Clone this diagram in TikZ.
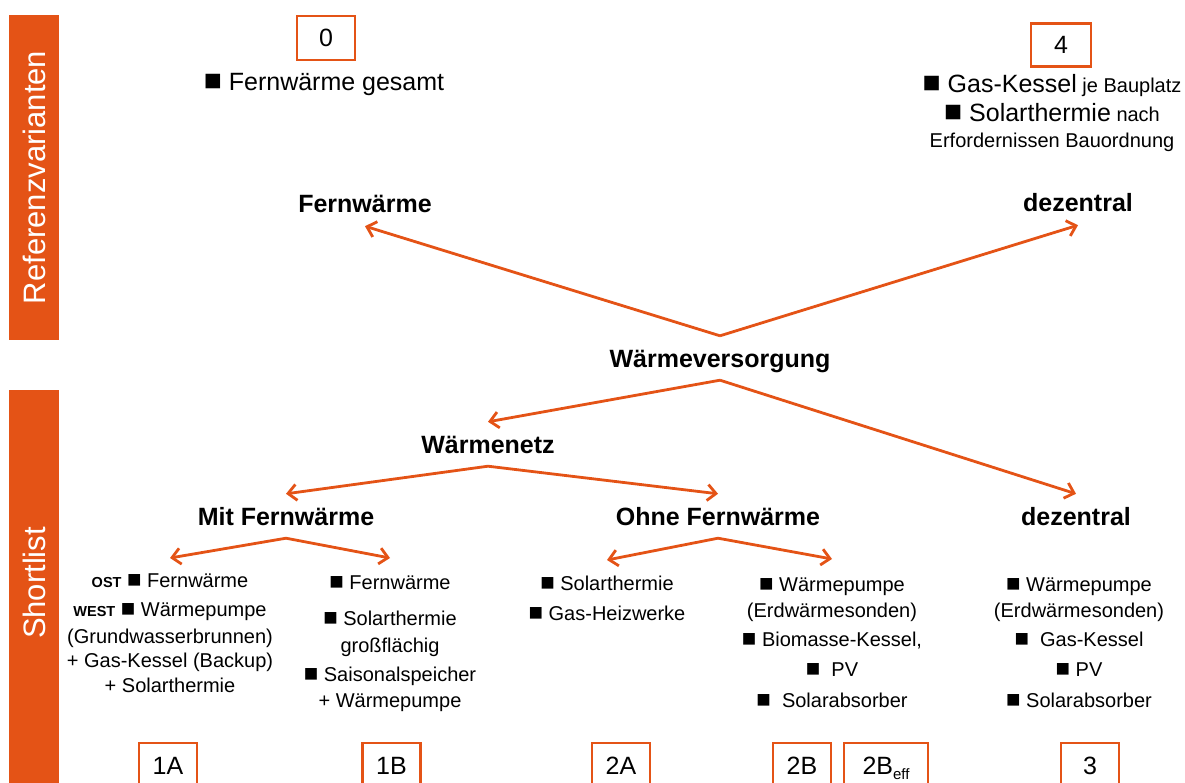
\documentclass[tikz,border=0pt]{standalone}
\usepackage{graphicx}
\usepackage{fontspec}
\setmainfont{Liberation Sans}
\usetikzlibrary{arrows.meta}
\definecolor{org}{RGB}{228,83,22}
\newcommand{\bsq}{\scalebox{1.2}{■}}
\begin{document}
\begin{tikzpicture}[x=1pt,y=-1pt,
  arr/.style={draw=org, line width=2.8pt, -{Straight Barb[length=8.5pt,width=16pt,line width=2.8pt]}},
  hd/.style={font=\fontsize{25}{30}\selectfont\bfseries, inner xsep=0pt, inner ysep=7pt, text height=24pt, text depth=6pt, anchor=base},
  item/.style={font=\fontsize{20}{26}\selectfont, align=center, inner sep=0pt, anchor=north},
  numbox/.style={draw=org, line width=2.8pt, minimum width=58pt, minimum height=44pt, inner sep=0pt, font=\fontsize{25}{30}\selectfont, text height=18pt, text depth=0pt},
  bar/.style={fill=org, inner sep=0pt, text=white, font=\fontsize{31}{31}\selectfont},
  bartxt/.style={inner sep=0pt, text=white, font=\fontsize{31}{31}\selectfont, rotate=90}
]
\useasboundingbox (0,0) rectangle (1185,783);
% side bars
\node[bar, rotate=90, minimum width=325pt, minimum height=50pt] (refbar) at (34,177.5) {Referenzvarianten};
\node[bar, rotate=90, minimum width=400pt, minimum height=50pt] (slbar) at (34,590) {};
\node[bartxt] (sltxt) at (34,583) {Shortlist};
% reference variants
\node[numbox] (b0) at (326,38) {0};
\node[anchor=base, inner sep=0pt, font=\fontsize{25}{30}\selectfont] (fg) at (324,91) {\bsq{} Fernwärme gesamt};
\node[numbox, minimum width=60pt, minimum height=43pt] (b4) at (1061,45) {4};
\node[item] (tr) at (1052,60) {\rule{0pt}{32pt}{\fontsize{25}{26}\selectfont \bsq{} Gas-Kessel} je Bauplatz\\[3pt]
  {\fontsize{25}{26}\selectfont \bsq{} Solarthermie} nach\\
  Erfordernissen Bauordnung};
% headings
\node[hd] (fw) at (365,213) {Fernwärme};
\node[hd] (dzA) at (1078,212) {dezentral};
\node[hd] (wv) at (720,367) {Wärmeversorgung};
\node[hd] (wn) at (488,453) {Wärmenetz};
\node[hd] (mit) at (286,525) {Mit Fernwärme};
\node[hd] (ohne) at (718,525) {Ohne Fernwärme};
\node[hd] (dzB) at (1076,525) {dezentral};
% item lists
\node[item] (c1a) at (170,558) {\rule{0pt}{29pt}{\fontsize{14.5}{26}\selectfont\bfseries OST} \bsq{} Fernwärme\\[3pt]
  {\fontsize{14.5}{26}\selectfont\bfseries WEST} \bsq{} Wärmepumpe\\[1pt]
  (Grundwasserbrunnen)\\[-2pt]
  + Gas-Kessel (Backup)\\[-1pt]
  + Solarthermie};
\node[item] (c1b) at (390,558) {\rule{0pt}{31pt}\bsq{} Fernwärme\\[10pt]
  \bsq{} Solarthermie\\[1pt]
  großflächig\\[3pt]
  \bsq{} Saisonalspeicher\\
  + Wärmepumpe};
\node[item] (c2a) at (607,560) {\rule{0pt}{30pt}\bsq{} Solarthermie\\[4pt]
  \bsq{} Gas-Heizwerke};
\node[item] (c2b) at (832,559) {\rule{0pt}{32pt}\bsq{} Wärmepumpe\\
  (Erdwärmesonden)\\[3pt]
  \bsq{} Biomasse-Kessel,\\[4pt]
  \bsq\ \ PV\\[5pt]
  \bsq\ \ Solarabsorber};
\node[item] (c3) at (1079,559) {\rule{0pt}{32pt}\bsq{} Wärmepumpe\\
  (Erdwärmesonden)\\[3pt]
  \bsq\ \ Gas-Kessel\\[4pt]
  \bsq{} PV\\[5pt]
  \bsq{} Solarabsorber};
% variant boxes
\node[numbox] (b1A) at (168,765) {1A};
\node[numbox] (b1B) at (391.5,765) {1B};
\node[numbox] (b2A) at (621,765) {2A};
\node[numbox] (b2B) at (802,765) {2B};
\node[numbox, minimum width=84pt] (b2Beff) at (886,765) {2B\raisebox{-5pt}{\fontsize{15}{15}\selectfont eff}};
\node[numbox] (b3) at (1090,765) {3};
% connectors
\draw[arr] (wv.north) -- (fw.south);
\draw[arr] (wv.north) -- (dzA.south);
\draw[arr] (wv.south) -- (wn.north);
\draw[arr] (wv.south) -- (dzB.north);
\draw[arr] (wn.south) -- (mit.north);
\draw[arr] (wn.south) -- (ohne.north);
\draw[arr] (mit.south) -- (c1a.north);
\draw[arr] (mit.south) -- (c1b.north);
\draw[arr] (ohne.south) -- (c2a.north);
\draw[arr] (ohne.south) -- (c2b.north);
\end{tikzpicture}
\end{document}
